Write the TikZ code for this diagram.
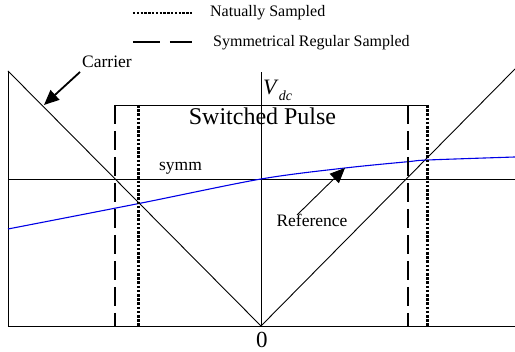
\documentclass[tikz,border=0pt]{standalone}
\usepackage{fontspec}
\setmainfont{Liberation Serif}
\usetikzlibrary{arrows.meta}
\definecolor{refblue}{RGB}{0,0,230}

\begin{document}
\begin{tikzpicture}[x=1pt, y=1pt, >={Triangle[length=15pt,width=13pt]},
    thinline/.style={line width=0.9pt},
    natline/.style={line width=3pt, dash pattern=on 2.6pt off 1.6pt},
    symline/.style={line width=2.3pt, dash pattern=on 19pt off 7pt},
    refline/.style={line width=1.1pt, refblue},
    lbl/.style={inner sep=0pt, font=\fontsize{17.5}{18}\selectfont},
    legtxt/.style={inner sep=0pt, anchor=base west, font=\fontsize{16}{16}\selectfont}]
    \useasboundingbox (-261,-26) rectangle (254,326);
    % legend
    \coordinate (natA) at (-128,313);
    \coordinate (natB) at (-69,313);
    \coordinate (symA) at (-128,284);
    \coordinate (symB) at (-69,284);
    \draw[line width=2.6pt, dash pattern=on 2.4pt off 1.4pt] (natA) -- (natB);
    \draw[line width=2.3pt, dash pattern=on 27pt off 10pt] (symA) -- (symB);
    \node[legtxt] (natlbl) at (-51,309) {Natually Sampled};
    \node[legtxt] (symlbl) at (-48,279) {Symmetrical Regular Sampled};
    % axes
    \coordinate (O) at (0,0);
    \coordinate (leftbot) at (-253,0);
    \coordinate (lefttop) at (-253,255);
    \coordinate (rightbot) at (254,0);
    \coordinate (righttop) at (254,257);
    \coordinate (vtop) at (0,254);
    \coordinate (midL) at (-253,147);
    \coordinate (midR) at (254,147);
    \draw[thinline] (leftbot) -- (rightbot);
    \draw[thinline] (leftbot) -- (lefttop);
    \draw[thinline] (O) -- (vtop);
    \draw[thinline] (midL) -- (midR);
    % carrier
    \draw[thinline] (lefttop) -- (O) -- (righttop);
    % reference
    \draw[refline] plot[smooth] coordinates {(-253,97) (-122,122.5) (0,147) (84,158) (147,164.3) (167,166) (254,169)};
    % switched pulse
    \coordinate (symL) at (-146,221);
    \coordinate (natL) at (-122,221);
    \coordinate (symR) at (147,221);
    \coordinate (natR) at (167,221);
    \draw[thinline] (symL) -- (natR);
    \draw[symline] (symL) -- (symL |- O);
    \draw[symline] (symR) -- (symR |- O);
    \draw[natline] (natL) -- (natL |- O);
    \draw[natline] (natR) -- (natR |- O);
    \node[inner sep=0pt, anchor=base, font=\fontsize{24}{24}\selectfont] (pulse) at (1.5,201) {Switched Pulse};
    \node[inner sep=0pt, anchor=base west, font=\fontsize{22}{22}\selectfont] (vdc) at (2,231)
      {\textit{V}\raisebox{-6pt}{\fontsize{14}{14}\selectfont\textit{dc}}};
    \node[inner sep=0pt, anchor=base, font=\fontsize{23}{23}\selectfont] (zero) at (1,-22) {0};
    % labels
    \node[lbl, anchor=base] (carrier) at (-154,258) {Carrier};
    \node[lbl, anchor=base] (symm) at (-80.5,155) {symm};
    \node[lbl, anchor=base] (reference) at (51,99) {Reference};
    \coordinate (carTail) at (-181,254);
    \coordinate (carTip) at (-217,221);
    \coordinate (refTail) at (36,111);
    \coordinate (refTip) at (84,158);
    \draw[->, line width=1.8pt] (carTail) -- (carTip);
    \draw[->, thinline] (refTail) -- (refTip);
\end{tikzpicture}
\end{document}
